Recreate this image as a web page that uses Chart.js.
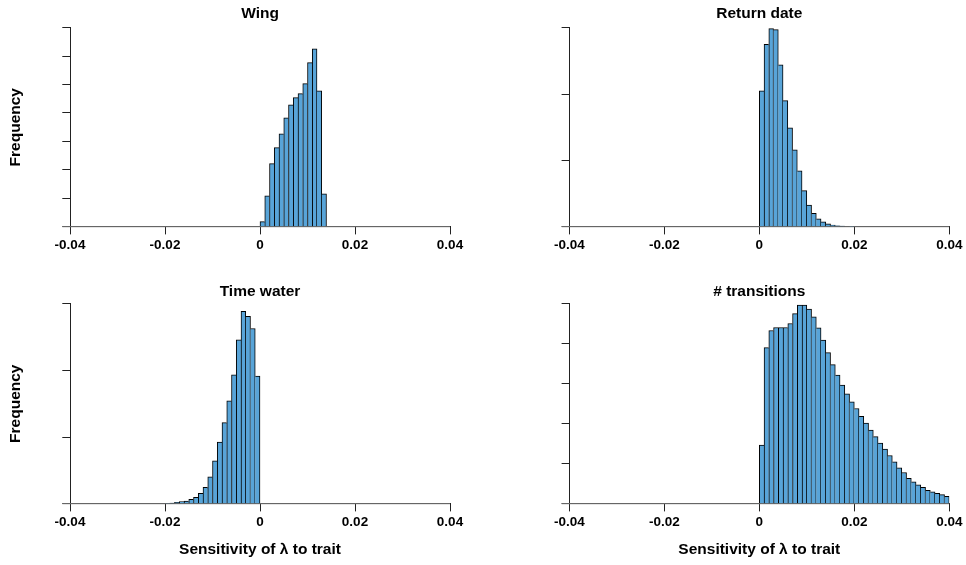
<!DOCTYPE html>
<html lang="en">
<head>
<meta charset="UTF-8">
<title>Sensitivity of lambda to trait</title>
<script src="https://cdn.jsdelivr.net/npm/chart.js"></script>
<style>
  html, body { margin: 0; padding: 0; background: #fff; }
  body { width: 966px; height: 565px; position: relative; overflow: hidden; }
  canvas { position: absolute; }
</style>
</head>
<body>
<canvas id="wingChart" width="483" height="282" style="left:0;top:0"></canvas>
<canvas id="returnChart" width="483" height="282" style="left:483px;top:0"></canvas>
<canvas id="waterChart" width="483" height="283" style="left:0;top:282px"></canvas>
<canvas id="transChart" width="483" height="283" style="left:483px;top:282px"></canvas>
<script>
// histogram bins (midpoints, bin width 0.001) and counts
const xTicks = [-0.04, -0.02, 0, 0.02, 0.04];

const wingBins = [0.0005, 0.0015, 0.0025, 0.0035, 0.0045, 0.0055, 0.0065,
                  0.0075, 0.0085, 0.0095, 0.0105, 0.0115, 0.0125, 0.0135];
const wingCounts = [180, 1090, 2220, 2780, 3270, 3830, 4290,
                    4540, 4680, 5030, 5770, 6260, 4780, 1160];

const returnBins = [0.0005, 0.0015, 0.0025, 0.0035, 0.0045, 0.0055, 0.0065,
                    0.0075, 0.0085, 0.0095, 0.0105, 0.0115, 0.0125, 0.0135,
                    0.0145, 0.0155, 0.0165, 0.0175, 0.0185, 0.0195];
const returnCounts = [20500, 27500, 29850, 29700, 24400, 19000, 14900,
                      11600, 8440, 5430, 3270, 2000, 1200, 750,
                      450, 260, 150, 100, 50, 20];

const waterBins = [-0.0195, -0.0185, -0.0175, -0.0165, -0.0155, -0.0145, -0.0135,
                   -0.0125, -0.0115, -0.0105, -0.0095, -0.0085, -0.0075, -0.0065,
                   -0.0055, -0.0045, -0.0035, -0.0025, -0.0015, -0.0005];
const waterCounts = [45, 105, 196, 300, 407, 650, 950,
                     1550, 2460, 4030, 6440, 9240, 12170, 15420,
                     19340, 24570, 28840, 28090, 26280, 19150];

const transBins = [0.0005, 0.0015, 0.0025, 0.0035, 0.0045, 0.0055, 0.0065, 0.0075,
                   0.0085, 0.0095, 0.0105, 0.0115, 0.0125, 0.0135, 0.0145, 0.0155,
                   0.0165, 0.0175, 0.0185, 0.0195, 0.0205, 0.0215, 0.0225, 0.0235,
                   0.0245, 0.0255, 0.0265, 0.0275, 0.0285, 0.0295, 0.0305, 0.0315,
                   0.0325, 0.0335, 0.0345, 0.0355, 0.0365, 0.0375, 0.0385, 0.0395];
const transCounts = [14650, 39030, 43300, 44050, 44050, 44050, 45060, 47500,
                     49680, 49680, 48680, 46740, 43980, 40890, 37770, 34750,
                     32170, 29650, 27470, 25460, 23800, 21860, 20180, 18420,
                     16760, 15150, 13650, 12060, 10480, 8970, 7790, 6360,
                     5450, 4700, 4100, 3340, 2940, 2590, 2260, 1830];

const FONT = 'Liberation Sans, Arial, Helvetica, sans-serif';
const BAR_FILL = 'rgb(88,164,216)';
const AXIS = '#222';

// shared edges are drawn once, by the taller bar
function edgeWidths(ctx) {
    const d = ctx.dataset.data;
    const i = ctx.dataIndex;
    const h = d[i].y;
    if (!h) return 0;
    const prev = i > 0 ? d[i - 1].y : 0;
    const next = i < d.length - 1 ? d[i + 1].y : 0;
    return { top: 1, bottom: 0, left: prev <= h ? 1 : 0, right: next < h ? 1 : 0 };
}

function histPanel(id, o) {
    const bars = o.bins.map((b, i) => ({ x: b, y: o.counts[i] }));
    new Chart(document.getElementById(id), {
        type: 'bar',
        data: {
            datasets: [{
                type: 'line',
                data: [{ x: -0.0416, y: 0 }, { x: 0.04, y: 0 }],
                borderColor: '#777',
                borderWidth: 1,
                pointRadius: 0,
                clip: false,
                order: 2
            }, {
                data: bars,
                backgroundColor: BAR_FILL,
                borderColor: '#000',
                borderWidth: edgeWidths,
                barPercentage: 1,
                categoryPercentage: 1,
                order: 1
            }]
        },
        options: {
            responsive: false,
            animation: false,
            layout: { padding: { left: 0, right: o.padRight, top: 0, bottom: 0 } },
            plugins: {
                legend: { display: false },
                tooltip: { enabled: false },
                title: {
                    display: true,
                    text: o.title,
                    fullSize: false,
                    color: '#000',
                    font: { family: FONT, size: 15.5, weight: 'bold' },
                    padding: o.titlePad
                }
            },
            scales: {
                x: {
                    type: 'linear',
                    min: -0.04,
                    max: 0.04,
                    offset: false,
                    afterFit: s => { s.height = o.xHeight; },
                    afterBuildTicks: s => { s.ticks = xTicks.map(v => ({ value: v })); },
                    grid: { display: true, offset: false, drawOnChartArea: false, drawTicks: true, tickLength: 7.7, color: AXIS },
                    border: { display: true, color: AXIS, width: 1 },
                    ticks: {
                        autoSkip: false,
                        maxRotation: 0,
                        padding: 3,
                        color: '#000',
                        font: { family: FONT, size: 13.5, weight: 'bold' },
                        callback: v => (Math.abs(v) < 1e-9 ? '0' : String(+v.toFixed(2)))
                    },
                    title: {
                        display: o.xTitle,
                        text: 'Sensitivity of \u03bb to trait',
                        color: '#000',
                        font: { family: FONT, size: 15.5, weight: 'bold' },
                        padding: { top: 0, bottom: 6.2 }
                    }
                },
                y: {
                    min: 0,
                    max: o.yMax,
                    afterFit: s => { s.width = o.yWidth; },
                    ticks: { display: false, stepSize: o.yStep },
                    grid: { display: true, drawOnChartArea: false, drawTicks: true, tickLength: 7.7, color: AXIS },
                    border: { display: true, color: AXIS, width: 1 },
                    title: {
                        display: o.yTitle,
                        text: 'Frequency',
                        color: '#000',
                        font: { family: FONT, size: 15.5, weight: 'bold' },
                        padding: { top: 6.7, bottom: 0 }
                    }
                }
            }
        }
    });
}

histPanel('wingChart', {
    title: 'Wing', bins: wingBins, counts: wingCounts, yMax: 7000, yStep: 1000,
    yTitle: true, xTitle: false, yWidth: 70, xHeight: 55.3, padRight: 33,
    titlePad: { top: 4.6, bottom: 4.5 }
});
histPanel('returnChart', {
    title: 'Return date', bins: returnBins, counts: returnCounts, yMax: 30000, yStep: 10000,
    yTitle: false, xTitle: false, yWidth: 86.3, xHeight: 55.3, padRight: 16.7,
    titlePad: { top: 4.6, bottom: 4.5 }
});
histPanel('waterChart', {
    title: 'Time water', bins: waterBins, counts: waterCounts, yMax: 30000, yStep: 10000,
    yTitle: true, xTitle: true, yWidth: 70, xHeight: 61.3, padRight: 33,
    titlePad: { top: 0, bottom: 3.1 }
});
histPanel('transChart', {
    title: '# transitions', bins: transBins, counts: transCounts, yMax: 50000, yStep: 10000,
    yTitle: false, xTitle: true, yWidth: 86.3, xHeight: 61.3, padRight: 16.7,
    titlePad: { top: 0, bottom: 3.1 }
});
</script>
</body>
</html>
